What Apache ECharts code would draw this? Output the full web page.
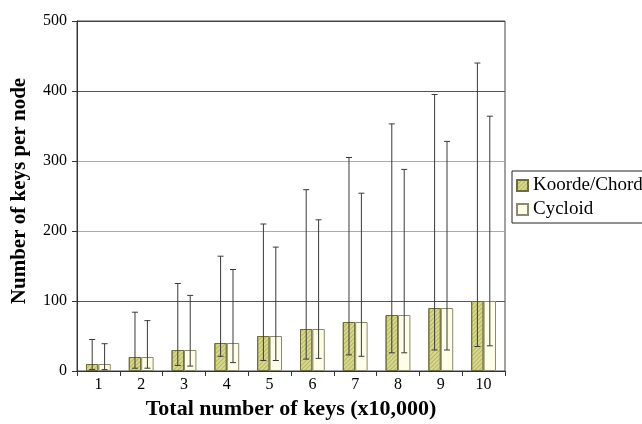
<!DOCTYPE html>
<html>
<head>
<meta charset="utf-8">
<script src="https://cdn.jsdelivr.net/npm/echarts@6/dist/echarts.min.js"></script>
<style>
  html, body { margin: 0; padding: 0; background: #fff; }
  #chart { width: 642px; height: 424px; }
</style>
</head>
<body>
<div id="chart"></div>
<script>
// Keys per node for growing key totals, mean with min/max range
const categories = ['1', '2', '3', '4', '5', '6', '7', '8', '9', '10'];
const seriesNames = ['Koorde/Chord', 'Cycloid'];

const koordeMean = [10, 20, 30, 40, 50, 60, 70, 80, 90, 100];
const koordeLow  = [2, 4, 8, 21, 15, 17, 23, 26, 30, 35];
const koordeHigh = [45, 84, 125, 164, 210, 259, 305, 353, 395, 440];

const cycloidMean = [10, 20, 30, 40, 50, 60, 70, 80, 90, 100];
const cycloidLow  = [2, 4, 7, 12, 15, 18, 21, 26, 30, 36];
const cycloidHigh = [39, 72, 108, 145, 177, 216, 254, 288, 328, 364];

const yTicks = [0, 100, 200, 300, 400, 500];

const FONT = "'Liberation Serif', 'DejaVu Serif', serif";
const BAR_FRACTION = 0.29; // bar width as share of category band

function errorRenderer(sign) {
  return function (params, api) {
    const i = api.value(0);
    const lo = api.coord([i, api.value(1)]);
    const hi = api.coord([i, api.value(2)]);
    const band = api.size([1, 0])[0];
    const x = lo[0] + sign * band * BAR_FRACTION / 2;
    const cap = 3;
    const style = { stroke: '#3a3a3a', lineWidth: 1 };
    return {
      type: 'group',
      children: [
        { type: 'line', shape: { x1: x, y1: lo[1], x2: x, y2: hi[1] }, style },
        { type: 'line', shape: { x1: x - cap, y1: hi[1], x2: x + cap, y2: hi[1] }, style },
        { type: 'line', shape: { x1: x - cap, y1: lo[1], x2: x + cap, y2: lo[1] }, style }
      ]
    };
  };
}

const chart = echarts.init(document.getElementById('chart'));
chart.setOption({
  animation: false,
  backgroundColor: '#fff',
  textStyle: { fontFamily: FONT, color: '#000' },
  grid: {
    left: 77, right: 137, top: 21, bottom: 53,
    show: true, borderColor: '#444', borderWidth: 1,
    containLabel: false, outerBoundsMode: 'none'
  },
  legend: {
    data: seriesNames,
    orient: 'vertical',
    left: 512, top: 171,
    icon: 'rect',
    itemWidth: 11, itemHeight: 11, itemGap: 5,
    padding: [5, 10, 4, 4],
    borderColor: '#222', borderWidth: 1,
    textStyle: { fontFamily: FONT, fontSize: 19, color: '#000' }
  },
  xAxis: {
    type: 'category',
    data: categories,
    boundaryGap: true,
    name: 'Total number of keys (x10,000)',
    nameLocation: 'middle',
    nameGap: 27,
    nameTextStyle: { fontFamily: FONT, fontSize: 22, fontWeight: 'bold', color: '#000' },
    axisLine: { lineStyle: { color: '#333', width: 1 } },
    axisTick: { show: true, length: 5, lineStyle: { color: '#333' } },
    axisLabel: { fontFamily: FONT, fontSize: 16, color: '#000', margin: 6 },
    splitLine: { show: false }
  },
  yAxis: {
    type: 'value',
    min: yTicks[0], max: yTicks[yTicks.length - 1], interval: 100,
    name: 'Number of keys per node',
    nameLocation: 'middle',
    nameRotate: 90,
    nameGap: 47,
    nameTextStyle: { fontFamily: FONT, fontSize: 21, fontWeight: 'bold', color: '#000', padding: [0, 0, 0, 10] },
    axisLine: { show: true, lineStyle: { color: '#333', width: 1 } },
    axisTick: { show: true, length: 5, lineStyle: { color: '#333' } },
    axisLabel: { fontFamily: FONT, fontSize: 16, color: '#000', margin: 10 },
    splitLine: { show: true, lineStyle: { color: ['#444', '#555', '#aaa', '#aaa', '#555', '#444'], width: 1 } }
  },
  series: [
    {
      name: seriesNames[0],
      type: 'bar',
      data: koordeMean,
      barWidth: (BAR_FRACTION * 100) + '%',
      barGap: '0%',
      itemStyle: {
        color: '#d8d890',
        borderColor: '#6e6e3c',
        borderWidth: 1,
        decal: {
          symbol: 'rect',
          symbolSize: 1,
          dashArrayX: [1, 0],
          dashArrayY: [1, 1.5],
          rotation: -Math.PI / 4,
          color: 'rgba(160, 160, 70, 0.6)'
        }
      }
    },
    {
      name: seriesNames[1],
      type: 'bar',
      data: cycloidMean,
      barWidth: (BAR_FRACTION * 100) + '%',
      barGap: '0%',
      itemStyle: { color: '#fdfde8', borderColor: '#8a8a70', borderWidth: 1 }
    },
    {
      name: 'koordeRange',
      type: 'custom',
      renderItem: errorRenderer(-1),
      data: categories.map((c, i) => [i, koordeLow[i], koordeHigh[i]]),
      encode: { x: 0, y: [1, 2] },
      z: 10
    },
    {
      name: 'cycloidRange',
      type: 'custom',
      renderItem: errorRenderer(1),
      data: categories.map((c, i) => [i, cycloidLow[i], cycloidHigh[i]]),
      encode: { x: 0, y: [1, 2] },
      z: 10
    }
  ]
});
</script>
</body>
</html>
